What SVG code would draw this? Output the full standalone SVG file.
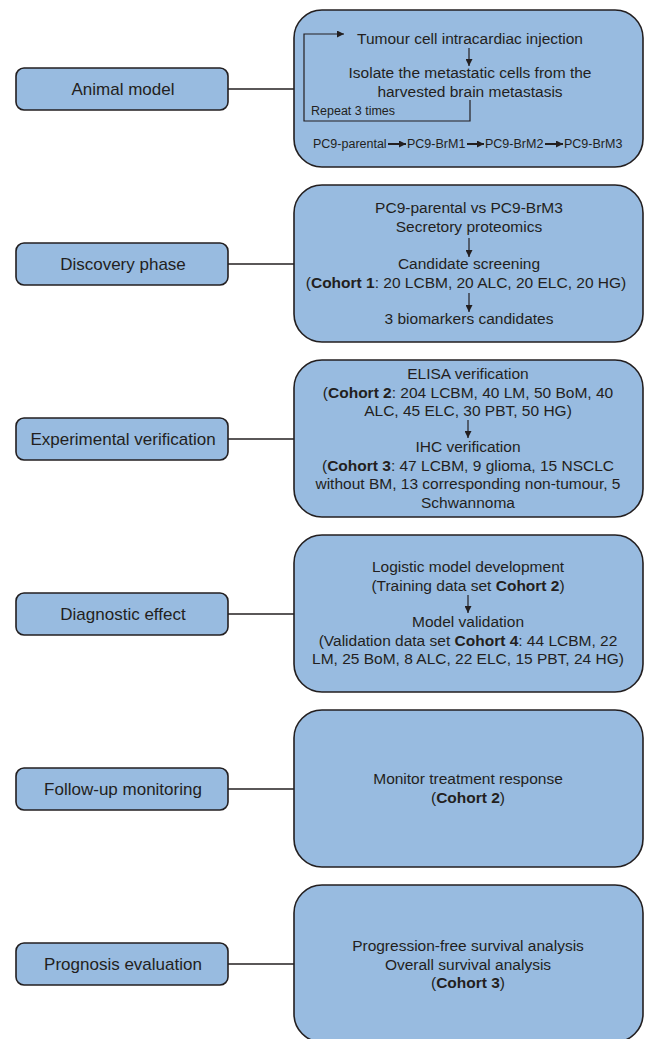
<svg xmlns="http://www.w3.org/2000/svg" width="648" height="1039" viewBox="0 0 648 1039">
<defs>
<marker id="ah" viewBox="0 0 8 8" refX="8" refY="4" markerWidth="7" markerHeight="7" markerUnits="userSpaceOnUse" orient="auto"><path d="M0,0 L8,4 L0,8 z" fill="#231f20"/></marker>
<marker id="ah2" viewBox="0 0 8 8" refX="8" refY="4" markerWidth="8" markerHeight="7" markerUnits="userSpaceOnUse" orient="auto"><path d="M0,0 L8,4 L0,8 z" fill="#231f20"/></marker>
<style>
.lb{fill:#98bbe0;stroke:#231f20;stroke-width:1.6}
.rb{fill:#98bbe0;stroke:#231f20;stroke-width:1.6}
.t{font-family:"Liberation Sans",Arial,sans-serif;fill:#231f20;text-anchor:middle}
.lt{font-size:17px}
.mt{font-size:15.5px}
.st{font-size:12.5px}
.b{font-weight:bold}
.c{stroke:#231f20;stroke-width:1.6;fill:none}
.a{stroke:#231f20;stroke-width:1.2;fill:none}
.a2{stroke:#231f20;stroke-width:2;fill:none}
</style>
</defs>
<g id="connectors">
<line class="c" x1="228" y1="89" x2="294" y2="89"/>
<line class="c" x1="228" y1="264" x2="294" y2="264"/>
<line class="c" x1="228" y1="439" x2="294" y2="439"/>
<line class="c" x1="228" y1="614" x2="294" y2="614"/>
<line class="c" x1="228" y1="789" x2="294" y2="789"/>
<line class="c" x1="228" y1="964" x2="294" y2="964"/>
</g>
<g id="animal-model"><rect class="lb" x="16" y="68" width="212" height="42" rx="8"/><text class="t lt" x="123" y="95">Animal model</text></g>
<g id="discovery-phase"><rect class="lb" x="16" y="243" width="212" height="42" rx="8"/><text class="t lt" x="123" y="270">Discovery phase</text></g>
<g id="experimental-verification"><rect class="lb" x="16" y="418" width="212" height="42" rx="8"/><text class="t lt" x="123" y="445">Experimental verification</text></g>
<g id="diagnostic-effect"><rect class="lb" x="16" y="593" width="212" height="42" rx="8"/><text class="t lt" x="123" y="620">Diagnostic effect</text></g>
<g id="follow-up-monitoring"><rect class="lb" x="16" y="768" width="212" height="42" rx="8"/><text class="t lt" x="123" y="795">Follow-up monitoring</text></g>
<g id="prognosis-evaluation"><rect class="lb" x="16" y="943" width="212" height="42" rx="8"/><text class="t lt" x="123" y="970">Prognosis evaluation</text></g>

<g id="animal-model-detail">
<rect class="rb" x="294" y="10" width="349" height="157" rx="28"/>
<text class="t mt" x="470" y="44">Tumour cell intracardiac injection</text>
<line class="a" x1="469" y1="48" x2="469" y2="66" marker-end="url(#ah)"/>
<text class="t mt" x="470" y="78">Isolate the metastatic cells from the</text>
<text class="t mt" x="470" y="97">harvested brain metastasis</text>
<polyline class="a" points="470,100 470,121 304,121 304,34 344,34" marker-end="url(#ah)"/>
<text class="t st" x="311" y="115" style="text-anchor:start">Repeat 3 times</text>
<text class="t st" x="313" y="148" style="text-anchor:start">PC9-parental</text>
<line class="a2" x1="388" y1="144" x2="406" y2="144" marker-end="url(#ah2)"/>
<text class="t st" x="407" y="148" style="text-anchor:start">PC9-BrM1</text>
<line class="a2" x1="467" y1="144" x2="484" y2="144" marker-end="url(#ah2)"/>
<text class="t st" x="485" y="148" style="text-anchor:start">PC9-BrM2</text>
<line class="a2" x1="545" y1="144" x2="563" y2="144" marker-end="url(#ah2)"/>
<text class="t st" x="564" y="148" style="text-anchor:start">PC9-BrM3</text>
</g>

<g id="discovery-phase-detail">
<rect class="rb" x="294" y="185" width="349" height="157" rx="28"/>
<text class="t mt" x="469" y="213">PC9-parental vs PC9-BrM3</text>
<text class="t mt" x="469" y="232">Secretory proteomics</text>
<line class="a" x1="469" y1="238" x2="469" y2="257" marker-end="url(#ah)"/>
<text class="t mt" x="469" y="269">Candidate screening</text>
<text class="t mt" x="466" y="288">(<tspan class="b">Cohort 1</tspan>: 20 LCBM, 20 ALC, 20 ELC, 20 HG)</text>
<line class="a" x1="469" y1="293" x2="469" y2="312" marker-end="url(#ah)"/>
<text class="t mt" x="469" y="324">3 biomarkers candidates</text>
</g>

<g id="experimental-verification-detail">
<rect class="rb" x="294" y="360" width="349" height="157" rx="28"/>
<text class="t mt" x="468" y="379">ELISA verification</text>
<text class="t mt" x="468" y="397.5">(<tspan class="b">Cohort 2</tspan>: 204 LCBM, 40 LM, 50 BoM, 40</text>
<text class="t mt" x="468" y="416">ALC, 45 ELC, 30 PBT, 50 HG)</text>
<line class="a" x1="468" y1="420" x2="468" y2="438" marker-end="url(#ah)"/>
<text class="t mt" x="468" y="452">IHC verification</text>
<text class="t mt" x="468" y="470.5">(<tspan class="b">Cohort 3</tspan>: 47 LCBM, 9 glioma, 15 NSCLC</text>
<text class="t mt" x="468" y="489">without BM, 13 corresponding non-tumour, 5</text>
<text class="t mt" x="468" y="507.5">Schwannoma</text>
</g>

<g id="diagnostic-effect-detail">
<rect class="rb" x="294" y="535" width="349" height="157" rx="28"/>
<text class="t mt" x="468" y="572">Logistic model development</text>
<text class="t mt" x="468" y="590.5">(Training data set <tspan class="b">Cohort 2</tspan>)</text>
<line class="a" x1="468" y1="595" x2="468" y2="613" marker-end="url(#ah)"/>
<text class="t mt" x="468" y="627">Model validation</text>
<text class="t mt" x="468" y="645.5">(Validation data set <tspan class="b">Cohort 4</tspan>: 44 LCBM, 22</text>
<text class="t mt" x="468" y="664">LM, 25 BoM, 8 ALC, 22 ELC, 15 PBT, 24 HG)</text>
</g>

<g id="follow-up-monitoring-detail">
<rect class="rb" x="294" y="710" width="349" height="157" rx="28"/>
<text class="t mt" x="468" y="784">Monitor treatment response</text>
<text class="t mt" x="468" y="803">(<tspan class="b">Cohort 2</tspan>)</text>
</g>

<g id="prognosis-evaluation-detail">
<rect class="rb" x="294" y="885" width="349" height="157" rx="28"/>
<text class="t mt" x="468" y="951">Progression-free survival analysis</text>
<text class="t mt" x="468" y="969.5">Overall survival analysis</text>
<text class="t mt" x="468" y="988">(<tspan class="b">Cohort 3</tspan>)</text>
</g>
</svg>
